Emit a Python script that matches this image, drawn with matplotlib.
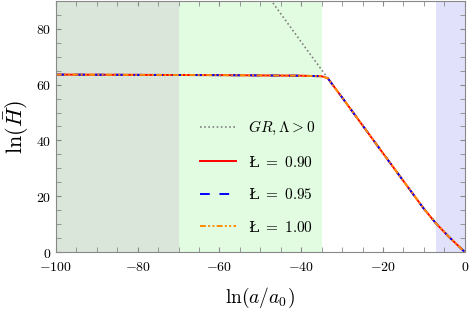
import matplotlib
matplotlib.use('Agg')
import matplotlib.pyplot as plt
from matplotlib.ticker import MultipleLocator

plt.rcParams['mathtext.fontset'] = 'cm'
plt.rcParams['font.family'] = 'serif'
plt.rcParams['font.serif'] = ['DejaVu Serif']

# ln(a/a0) и ln(H) для трех значений параметра
x = [-100, -80, -60, -40, -35, -33.5, -30, -20, -10, -7, -4, 0]
h_090 = [63.6, 63.5, 63.4, 63.2, 63.0, 62.3, 55.4, 35.4, 15.5, 10.2, 5.6, 0]
h_095 = [63.6, 63.5, 63.4, 63.2, 63.0, 62.3, 55.4, 35.4, 15.5, 10.2, 5.6, 0]
h_100 = [63.6, 63.5, 63.4, 63.2, 63.0, 62.3, 55.4, 35.4, 15.5, 10.2, 5.6, 0]

# ОТО с космологической постоянной
x_gr = [-47.5, -40, -33.5]
h_gr = [90.5, 75.3, 62.3]

# Области (эпохи)
regions = [(-100, -70, '#d9e6d9'), (-70, -35, '#e1fce1'), (-7, 0, '#e1e1fc')]

fig, ax = plt.subplots(figsize=(4.69, 3.15), dpi=100)
fig.subplots_adjust(left=0.119, right=0.991, bottom=0.2, top=0.997)

for x0, x1, c in regions:
    ax.axvspan(x0, x1, color=c, lw=0, zorder=0)

ax.plot(x_gr, h_gr, color='gray', ls=(0, (1, 1.5)), lw=1.2, label=r'$GR,\Lambda>0$')
ax.plot(x, h_090, color='red', lw=1.4, label=r'Ł$\ =\ 0.90$')
ax.plot(x, h_095, color='blue', lw=1.4, ls=(0, (5, 5)), label=r'Ł$\ =\ 0.95$')
ax.plot(x, h_100, color='darkorange', lw=1.4, ls=(0, (3, 1.2, 1, 1.2, 1, 1.2)), label=r'Ł$\ =\ 1.00$')

ax.set_xlim(-100, 0)
ax.set_ylim(0, 90)
ax.set_xticks([-100, -80, -60, -40, -20, 0])
ax.set_xticklabels([r'$-100$', r'$-80$', r'$-60$', r'$-40$', r'$-20$', r'$0$'])
ax.set_yticks([0, 20, 40, 60, 80])
ax.set_yticklabels([r'$0$', r'$20$', r'$40$', r'$60$', r'$80$'])
ax.xaxis.set_minor_locator(MultipleLocator(5))
ax.yaxis.set_minor_locator(MultipleLocator(5))
ax.tick_params(which='both', direction='in', top=True, right=True, length=3.5,
               color='#888888', labelsize=10)
ax.tick_params(axis='x', pad=6)
ax.tick_params(axis='y', pad=3)
for s in ax.spines.values():
    s.set_color('#888888')

ax.set_xlabel(r'$\ln(a/a_0)$', fontsize=14, labelpad=8)
ax.set_ylabel(r'$\ln(\bar{H})$', fontsize=16)

ax.legend(loc='upper left', bbox_to_anchor=(0.32, 0.585), frameon=False,
          fontsize=11, labelspacing=1.15, handlelength=2.3, handletextpad=0.8)

plt.savefig('out.png')
